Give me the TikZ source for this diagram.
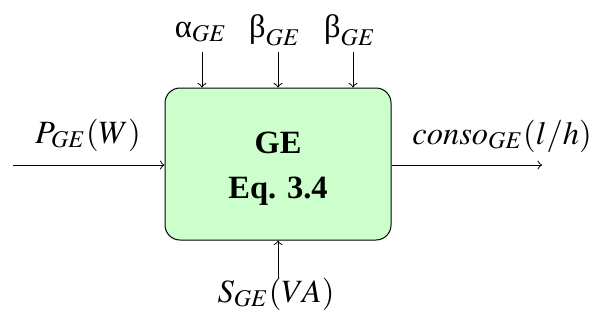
\documentclass[tikz,border=0pt,12pt]{standalone}
\usepackage{mathptmx}
\usepackage{fontspec}
\setmainfont{Liberation Serif}
\newcommand{\gk}[1]{\mbox{\rmfamily\upshape #1}}
\begin{document}
\begin{tikzpicture}[x=0.4pt,y=-0.4pt,font=\fontsize{13}{15.6}\selectfont,
  blockbox/.style={draw,fill=green!20,rounded corners=6pt,minimum width=226*0.4pt,minimum height=152*0.4pt,inner sep=0pt},
  lbl/.style={inner sep=0pt,anchor=base},
  sig/.style={->,thin}]
\useasboundingbox (0,0) rectangle (591,322);
\node[blockbox] (box) at (278,164) {};
\node[lbl,font=\fontsize{13}{15.6}\selectfont\bfseries] (ge) at (278,153) {GE};
\node[lbl,font=\fontsize{13}{15.6}\selectfont\bfseries] (eq) at (278,198) {Eq. 3.4};
\node[lbl] (a) at (201,37) {$\gk{α}_{GE}$};
\node[lbl] (b1) at (275,37) {$\gk{β}_{GE}$};
\node[lbl] (b2) at (350,37) {$\gk{β}_{GE}$};
\coordinate (ta) at (202,52);
\coordinate (tb1) at (278,52);
\coordinate (tb2) at (353,52);
\draw[sig] (ta) -- (ta |- box.north);
\draw[sig] (tb1) -- (tb1 |- box.north);
\draw[sig] (tb2) -- (tb2 |- box.north);
\node[lbl] (p) at (88,143) {$P_{GE}(W)$};
\coordinate (pin) at (13,165);
\draw[sig] (pin) -- (pin -| box.west);
\node[lbl] (c) at (502,144) {$conso_{GE}(l/h)$};
\coordinate (cout) at (542,165);
\draw[sig] (cout -| box.east) -- (cout);
\node[lbl] (s) at (276,302) {$S_{GE}(VA)$};
\coordinate (sin) at (278,278);
\draw[sig] (sin) -- (box.south);
\end{tikzpicture}
\end{document}
